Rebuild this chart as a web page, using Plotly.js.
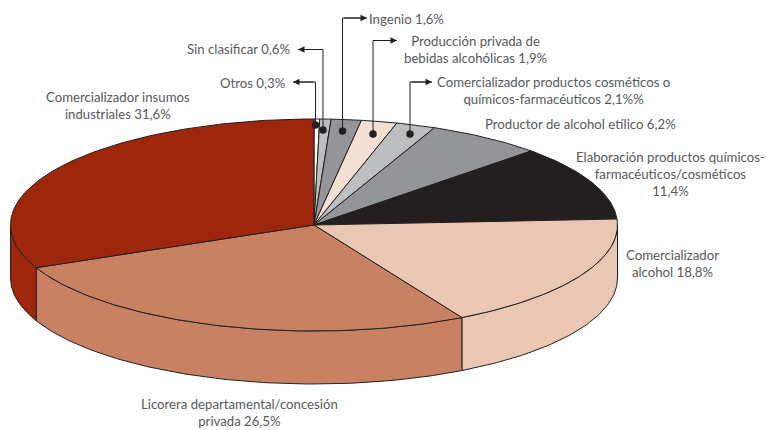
<!DOCTYPE html>
<html><head><meta charset="utf-8">
<script src="https://cdn.plot.ly/plotly-3.0.1.min.js"></script>
<style>html,body{margin:0;padding:0;background:#fff}#c{width:766px;height:430px}</style>
</head><body><div id="c"></div>
<script>
const categories = ['Otros','Sin clasificar','Ingenio','Producción privada de bebidas alcohólicas','Comercializador productos cosméticos o químicos-farmacéuticos','Productor de alcohol etílico','Elaboración productos químicos-farmacéuticos/cosméticos','Comercializador alcohol','Licorera departamental/concesión privada','Comercializador insumos industriales'];
// Slice sizes: the alcohol slice is drawn at about 17.8 although its printed label says 18,8%.
const shares = [0.3,0.6,1.6,1.9,2.1,6.2,11.4,17.8,26.5,31.6];
const colors = ['#ffffff','#bcbec0','#939598','#f3dfd3','#bcbec0','#939598','#231f20','#e9c7b3','#c98163','#9e260c'];
const labelTexts = ['Otros 0,3%','Sin clasificar 0,6%','Ingenio 1,6%','Producción privada de<br>bebidas alcohólicas 1,9%','Comercializador productos cosméticos o<br>químicos-farmacéuticos 2,1%%','Productor de alcohol etílico 6,2%','Elaboración productos químicos-<br>farmacéuticos/cosméticos<br>11,4%','Comercializador<br>alcohol 18,8%','Licorera departamental/concesión<br>privada 26,5%','Comercializador insumos<br>industriales 31,6%'];
const labelX = [287,292,367,475.5,553,483,670.5,672,239,117.5];
const labelY = [83,49,19,49.5,90,124,174,263,412.5,105.5];
const labelAnchor = ['right','right','left','center','center','left','center','center','center','center'];
const leaderDotX = [315.5,323,342.5,373,410];
const leaderDotY = [125,130,131,134,134];
const leaderBendY = [82,49.5,18,40.5,82];
const leaderTipX = [293,298,367,397,432];

const cx=314, cy=225, rx=303.5, ry=106, depth=53, ink='#231f20';
const total = shares.reduce((a,b)=>a+b,0);
const px = t => cx+rx*Math.sin(t), py = t => cy-ry*Math.cos(t);
const D = Math.PI/180;
function arc(a,b,dy){const xs=[],ys=[];const n=Math.max(2,Math.ceil(Math.abs(b-a)/D));
  for(let i=0;i<=n;i++){const t=a+(b-a)*i/n;xs.push(px(t));ys.push(py(t)+dy);}return [xs,ys];}
const walls=[],tops=[];let acc=0;
shares.forEach((v,i)=>{
  const a=acc/total*2*Math.PI; acc+=v; const b=acc/total*2*Math.PI;
  const [tx,ty]=arc(a,b,0);
  tops.push({x:[cx,...tx,cx],y:[cy,...ty,cy],type:'scatter',mode:'lines',fill:'toself',fillcolor:colors[i],
    line:{color:ink,width:1},name:categories[i],hoverinfo:'name',showlegend:false});
  const a2=Math.max(a,Math.PI/2), b2=Math.min(b,1.5*Math.PI);
  if(b2>a2){const [ux,uy]=arc(a2,b2,0),[lx,ly]=arc(b2,a2,depth);
    walls.push({x:[...ux,...lx,ux[0]],y:[...uy,...ly,uy[0]],type:'scatter',mode:'lines',fill:'toself',fillcolor:colors[i],
      line:{color:ink,width:1},name:categories[i],hoverinfo:'name',showlegend:false});}
});
const leaders=leaderDotX.map((x,i)=>({x:[x,x,leaderTipX[i]],y:[leaderDotY[i],leaderBendY[i],leaderBendY[i]],
  type:'scatter',mode:'lines+markers',line:{color:ink,width:1},marker:{color:ink,opacity:1,size:[7.5,0,0],line:{width:0}},hoverinfo:'skip',showlegend:false,cliponaxis:false}));
const annotations=labelTexts.map((t,i)=>({x:labelX[i],y:labelY[i],xref:'x',yref:'y',text:t,showarrow:false,xanchor:labelAnchor[i],yanchor:'middle',align:labelAnchor[i]}));
leaderDotX.forEach((x,i)=>annotations.push({x:leaderTipX[i],y:leaderBendY[i],ax:x,ay:leaderBendY[i],xref:'x',yref:'y',axref:'x',ayref:'y',text:'',showarrow:true,arrowhead:2,arrowsize:1.3,arrowwidth:1,arrowcolor:ink}));
Plotly.newPlot('c',[...walls,...tops,...leaders],{
  width:766,height:430,margin:{l:0,r:0,t:0,b:0},paper_bgcolor:'#fff',plot_bgcolor:'#fff',showlegend:false,
  font:{family:'Lato, sans-serif',size:13.2,color:'#58595b'},
  xaxis:{range:[0,766],visible:false,fixedrange:true},
  yaxis:{range:[430,0],visible:false,fixedrange:true},
  annotations
},{displayModeBar:false,staticPlot:true});
</script></body></html>
